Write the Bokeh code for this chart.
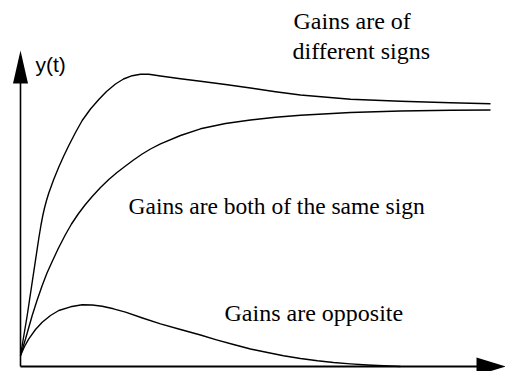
from bokeh.plotting import figure
from bokeh.models import ColumnDataSource, Range1d
from bokeh.core.properties import value
from bokeh.embed import file_html
from bokeh.resources import INLINE

# ---- data: time t and response y(t) (arbitrary units) ----
t_diff = [0, 6.7, 11.7, 16.7, 18.5, 20.5, 22.3, 24, 26, 28.3, 33, 38.3, 43, 48.3, 55, 61.7,
          70, 78.3, 86, 95, 103, 111.7, 120, 128.3, 140, 160, 180, 205, 230, 255, 280, 330,
          380, 430, 470]
y_diff = [11, 51, 84.3, 117.7, 129.5, 141.5, 151, 158.5, 166, 173.5, 186.5, 199.5, 210, 221,
          234, 246, 257.5, 267, 275, 282.5, 287.5, 290.8, 292.3, 292.2, 290.5, 287.8, 285.3,
          282, 278.5, 274.8, 271.5, 267.3, 265.3, 263.8, 262.7]

t_same = [0, 5, 11.7, 16.5, 21.7, 26.5, 31.7, 38, 45, 51, 57.7, 64.5, 71.7, 80, 88.3, 96.5,
          105, 113, 121.7, 130, 140, 160, 180, 205, 230, 255, 280, 330, 380, 430, 470]
y_same = [11, 27.5, 51, 66, 81, 93.5, 105, 118.5, 132, 142.5, 152.5, 161.5, 170, 179, 187, 194,
          200.5, 206.5, 212.5, 217.5, 222.7, 231, 237.7, 243, 246.5, 249.2, 251.2, 254, 255.5,
          256.2, 256.5]

t_opp = [0, 4, 8.3, 15, 21.7, 30, 38.3, 50, 61.7, 71.7, 81.7, 93, 105, 122, 140, 160, 180,
         196, 213, 230, 247, 263, 280, 297, 313, 330, 347, 363, 380]
y_opp = [11, 20, 27.7, 37, 44.3, 51, 56, 59.7, 61.7, 61.5, 60.3, 57.7, 54.3, 48.5, 42.7, 37,
         31.5, 26.7, 22, 17.5, 14, 10.7, 8, 5.7, 4, 2.6, 1.5, 0.7, 0]

label_texts = ["Gains are of", "different signs", "Gains are opposite"]
main_label = "Gains are both of the same sign"
axis_label = "y(t)"

# ---- layout (axis extents in data units) ----
T_END, Y_END = 485, 316            # arrow tips
X_HEAD_LEN, X_HEAD_HALF = 29, 9
Y_HEAD_LEN, Y_HEAD_HALF = 33, 7.5

p = figure(width=505, height=371,
           x_range=Range1d(-20, 485), y_range=Range1d(-5, 366),
           x_axis_type=None, y_axis_type=None,
           output_backend="svg", toolbar_location=None, min_border=0)
p.outline_line_color = None
p.grid.visible = False
p.background_fill_color = "white"
p.border_fill_color = "white"

# axes drawn as arrows
p.line([0, T_END - X_HEAD_LEN + 1], [0, 0], line_color="black", line_width=2)
p.line([0, 0], [0, Y_END - Y_HEAD_LEN + 1], line_color="black", line_width=1.6)
p.patch([T_END - X_HEAD_LEN, T_END, T_END - X_HEAD_LEN],
        [X_HEAD_HALF, 0, -X_HEAD_HALF], color="black", line_width=0)
p.patch([-Y_HEAD_HALF, 0, Y_HEAD_HALF],
        [Y_END - Y_HEAD_LEN, Y_END, Y_END - Y_HEAD_LEN], color="black", line_width=0)

# response curves
for tt, yy in [(t_diff, y_diff), (t_same, y_same), (t_opp, y_opp)]:
    p.line(tt, yy, line_color="black", line_width=1.4, line_join="round")

# annotations
serif = value("'Liberation Serif', 'Times New Roman', Times, serif")
src = ColumnDataSource(dict(x=[273, 272, 204], y=[346, 316, 54], text=label_texts))
p.text(x="x", y="y", text="text", source=src,
       text_font=serif, text_font_size="24px",
       text_baseline="alphabetic", text_align="left", text_color="black")
p.text(x=[108], y=[161], text=[main_label],
       text_font=serif, text_font_size="23.5px",
       text_baseline="alphabetic", text_align="left", text_color="black")
p.text(x=[15], y=[302], text=[axis_label],
       text_font=value("'Liberation Sans', Arial, sans-serif"), text_font_size="21px",
       text_baseline="alphabetic", text_align="left", text_color="black")

open("out.html", "w").write(file_html(p, INLINE))
